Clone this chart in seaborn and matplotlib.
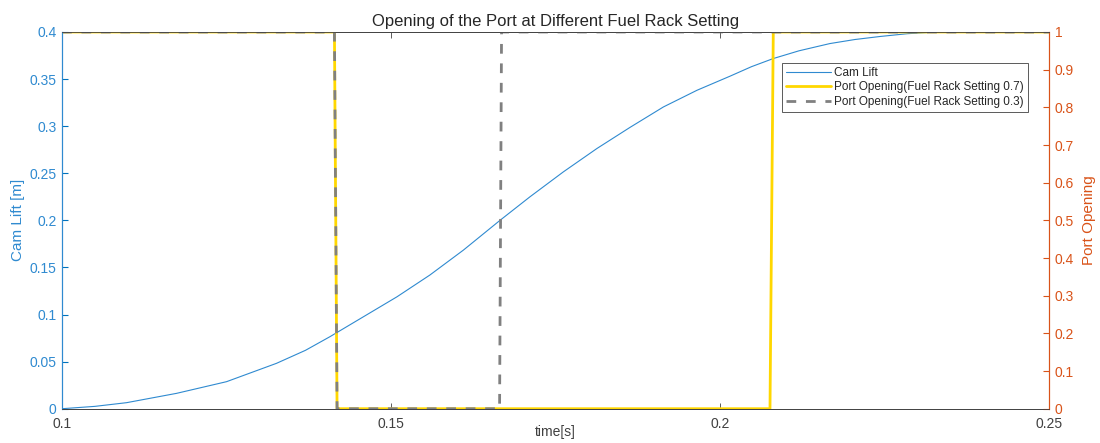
import numpy as np
import pandas as pd
import matplotlib
matplotlib.use("Agg")
import matplotlib.pyplot as plt
import seaborn as sns

# cam lift
time_cam = [0.1, 0.105, 0.1098, 0.1174, 0.125, 0.1326, 0.137, 0.1407, 0.1458, 0.1509,
            0.1559, 0.161, 0.1666, 0.1711, 0.1762, 0.1813, 0.1863, 0.1914, 0.1965,
            0.2015, 0.2048, 0.2081, 0.2120, 0.2167, 0.2205, 0.2243, 0.2285, 0.2329,
            0.24, 0.25]
cam_lift = [0.0, 0.0025, 0.0064, 0.0163, 0.0287, 0.0482, 0.062, 0.0764, 0.0976, 0.1188,
            0.1419, 0.1684, 0.2002, 0.2249, 0.2515, 0.2763, 0.2986, 0.3204, 0.3381,
            0.353, 0.3632, 0.3718, 0.3800, 0.3877, 0.3920, 0.3952, 0.3982, 0.400,
            0.400, 0.400]

# port opening, fuel rack 0.7 (solid yellow)
time_p07 = [0.1, 0.1414, 0.1418, 0.2076, 0.2081, 0.25]
open_p07 = [1, 1, 0, 0, 1, 1]

# port opening, fuel rack 0.3 (dashed grey)
time_p03 = [0.1, 0.1414, 0.1418, 0.1665, 0.1668, 0.25]
open_p03 = [1, 1, 0, 0, 1, 1]

blue = "#0072BD"
line_blue = "#2f8ad0"
orange = "#D95319"
yellow = "#FFD700"
grey = "#808080"
dark = "#404040"

sns.set_style("white")
plt.rcParams["font.family"] = ["Liberation Sans", "DejaVu Sans"]

fig = plt.figure(figsize=(11, 4.43), dpi=100)
ax = fig.add_axes([0.0564, 0.0774, 0.8972, 0.8504])
ax2 = ax.twinx()

cam_df = pd.DataFrame({"t": time_cam, "lift": cam_lift})
sns.lineplot(data=cam_df, x="t", y="lift", ax=ax, color=line_blue, lw=0.8,
             label="Cam Lift", legend=False, sort=False)

p07 = pd.DataFrame({"t": time_p07, "o": open_p07})
p03 = pd.DataFrame({"t": time_p03, "o": open_p03})
sns.lineplot(data=p07, x="t", y="o", ax=ax2, color=yellow, lw=2,
             label="Port Opening(Fuel Rack Setting 0.7)", legend=False, sort=False)
sns.lineplot(data=p03, x="t", y="o", ax=ax2, color=grey, lw=2, linestyle=(0, (3.5, 3.5)),
             label="Port Opening(Fuel Rack Setting 0.3)", legend=False, sort=False)

ax.set_xlim(0.1, 0.25)
ax.set_ylim(0, 0.4)
ax2.set_ylim(0, 1)
ax.set_xticks([0.1, 0.15, 0.2, 0.25])
ax.set_xticklabels(["0.1", "0.15", "0.2", "0.25"])
ax.set_yticks(np.arange(0, 0.401, 0.05))
ax.set_yticklabels(["0", "0.05", "0.1", "0.15", "0.2", "0.25", "0.3", "0.35", "0.4"])
ax2.set_yticks(np.arange(0, 1.001, 0.1))
ax2.set_yticklabels(["0", "0.1", "0.2", "0.3", "0.4", "0.5", "0.6", "0.7", "0.8", "0.9", "1"])

ax.tick_params(axis="x", direction="in", length=4, colors=dark, labelsize=10,
               top=True, bottom=True, width=0.6, pad=6)
ax.tick_params(axis="y", direction="in", length=4, colors=blue, labelsize=10, width=0.8, pad=4)
ax2.tick_params(axis="y", direction="in", length=4, colors=orange, labelsize=10, width=0.8, pad=4)
for lab in ax.get_yticklabels():
    lab.set_color(line_blue)

for a in (ax, ax2):
    a.spines["top"].set_color(dark)
    a.spines["bottom"].set_color(dark)
    a.spines["top"].set_linewidth(0.6)
    a.spines["bottom"].set_linewidth(0.6)
    a.spines["left"].set_color(line_blue)
    a.spines["right"].set_color(orange)
    a.spines["left"].set_linewidth(0.8)
    a.spines["right"].set_linewidth(0.8)

ax.set_xlabel("time[s]", fontsize=10, color=dark, va="center")
ax.xaxis.set_label_coords(0.5, -0.062)
ax.set_ylabel("Cam Lift [m]", fontsize=11, color=line_blue, labelpad=3)
ax2.set_ylabel("Port Opening", fontsize=11, color=orange, labelpad=6)
ax.set_title("Opening of the Port at Different Fuel Rack Setting", fontsize=12, pad=4)

h1, l1 = ax.get_legend_handles_labels()
h2, l2 = ax2.get_legend_handles_labels()
leg = ax2.legend(h1 + h2, l1 + l2, loc="upper right", bbox_to_anchor=(0.979, 0.918),
                 fontsize=8.5, frameon=True, fancybox=False, framealpha=1,
                 borderaxespad=0, handlelength=3.8, handletextpad=0.3,
                 labelspacing=0.2, borderpad=0.35)
leg.get_frame().set_edgecolor(dark)
leg.get_frame().set_linewidth(0.6)

fig.savefig("out.png", dpi=100)
